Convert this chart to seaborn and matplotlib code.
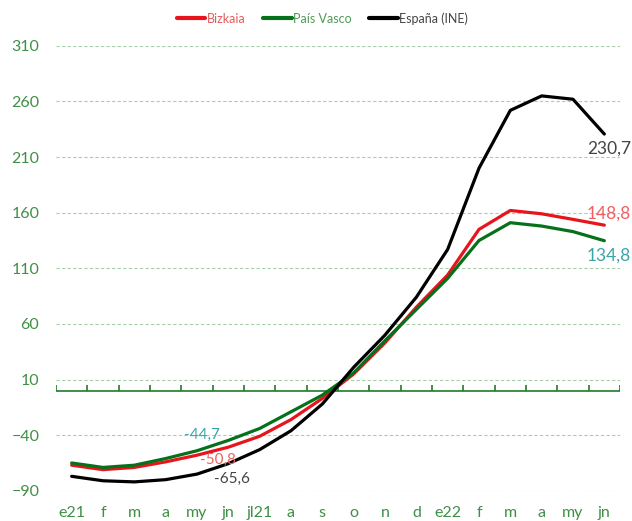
import numpy as np
import pandas as pd
import seaborn as sns
import matplotlib.pyplot as plt

# month labels (Jan 2021 - Jun 2022)
months = ['e21', 'f', 'm', 'a', 'my', 'jn', 'jl21', 'a', 's', 'o', 'n', 'd',
          'e22', 'f', 'm', 'a', 'my', 'jn']

bizkaia = [-67, -71, -69, -64, -58, -50.8, -41, -26, -7, 15, 43, 75,
           104, 145, 162, 159, 154, 148.8]
pais_vasco = [-65, -69, -67, -61, -54, -44.7, -34, -19, -4, 16, 45, 73,
              101, 135, 151, 148, 143, 134.8]
espana = [-77, -81, -82, -80, -75, -65.6, -53, -36, -12, 21, 50, 84,
          127, 200, 252, 265, 262, 230.7]

series_names = ['Bizkaia', 'País Vasco', 'España (INE)']
line_colors = ['#e8141c', '#06701a', '#000000']
text_colors = ['#e85a5a', '#4f9a55', '#444444']

df = pd.DataFrame({
    'idx': list(range(len(months))) * 3,
    'valor': bizkaia + pais_vasco + espana,
    'serie': [s for s in series_names for _ in months],
})

sns.set_style('white')
plt.rcParams['font.family'] = ['Lato', 'DejaVu Sans']

fig = plt.figure(figsize=(6.32, 5.21), dpi=100)
ax = fig.add_axes([0.0886, 0.058, 0.8924, 0.854])

sns.lineplot(data=df, x='idx', y='valor', hue='serie', hue_order=series_names,
             palette=dict(zip(series_names, line_colors)), linewidth=2.3,
             ax=ax, legend=False)

ax.set_xlim(-0.5, len(months) - 0.5)
ax.set_ylim(-90, 310)
ax.set_yticks(np.arange(-90, 311, 50))
ax.set_xticks(range(len(months)))
ax.set_xticklabels(months)
ax.set_xlabel('')
ax.set_ylabel('')

axis_green = '#3f8f45'
ax.tick_params(axis='both', length=0, labelsize=11.5, labelcolor=axis_green)
ax.tick_params(axis='y', pad=12)
ax.tick_params(axis='x', pad=11)
for sp in ax.spines.values():
    sp.set_visible(False)

ax.yaxis.grid(True, linestyle=(0, (3, 2)), color='#a9cfa9', linewidth=0.8)
ax.set_axisbelow(True)

# baseline at zero with category separators
ax.axhline(0, color='#1f7a2a', linewidth=1.2, zorder=1)
ax.vlines(np.arange(-0.5, len(months)), 0, 5, color='#1f7a2a', linewidth=1.2, zorder=1)

# value labels
last = len(months) - 1
mid = 5
ax.text(last + 0.15, espana[-1] - 13, '230,7', color='#444444', fontsize=12.5,
        ha='center', va='center')
ax.text(last + 0.15, bizkaia[-1] + 10, '148,8', color='#f06060', fontsize=12.5,
        ha='center', va='center')
ax.text(last + 0.15, pais_vasco[-1] - 13, '134,8', color='#3aa5a8', fontsize=12.5,
        ha='center', va='center')
ax.text(mid - 0.85, pais_vasco[mid] + 5, '-44,7', color='#3aa5a8', fontsize=11,
        ha='center', va='center')
ax.text(mid - 0.33, bizkaia[mid] - 11, '-50,8', color='#f06060', fontsize=11,
        ha='center', va='center')
ax.text(mid + 0.12, espana[mid] - 14, '-65,6', color='#444444', fontsize=11,
        ha='center', va='center')

handles = [plt.Line2D([], [], color=c, linewidth=3) for c in line_colors]
leg = fig.legend(handles, series_names, loc='center', bbox_to_anchor=(0.51, 0.965),
                 ncol=3, frameon=False, fontsize=9, handlelength=2.3,
                 handletextpad=0.1, columnspacing=1.4)
for t, c in zip(leg.get_texts(), text_colors):
    t.set_color(c)

fig.savefig('out.png', dpi=100)
